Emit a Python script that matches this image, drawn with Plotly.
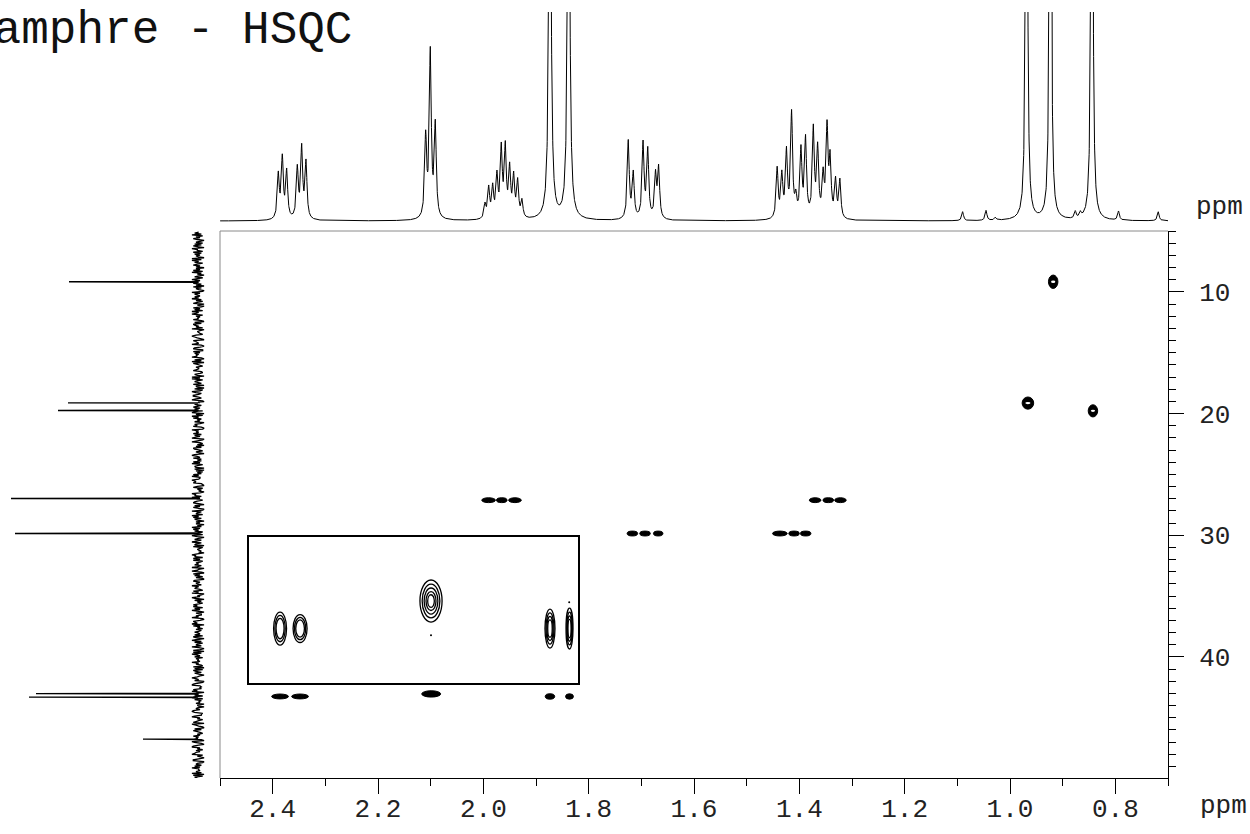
import numpy as np
import plotly.graph_objects as go

FONT = "Courier New, Liberation Mono, monospace"

# ---------------- 1H projection (top): peak list ----------------
h1_ppm = [2.3893, 2.3817, 2.3734, 2.3532, 2.3449, 2.3367,
          2.1095, 2.1007, 2.0912,
          1.9969, 1.9898, 1.9822, 1.9741, 1.9659, 1.9583, 1.9500, 1.9424, 1.9348, 1.9266,
          1.8735, 1.8380,
          1.7248, 1.7153, 1.6967, 1.6878, 1.6730, 1.6671,
          1.4421, 1.4332, 1.4244, 1.4147, 1.4066, 1.3969, 1.3882, 1.3734, 1.3652, 1.3548,
          1.3474, 1.3415, 1.3312, 1.3230,
          1.0899, 1.0455, 1.0278, 0.8761, 0.8664, 0.7939, 0.7185,
          0.9686, 0.9234, 0.8444]
h1_int = [44, 60, 47, 50, 70, 56,
          80, 165, 92,
          14, 30, 30, 41, 68, 69, 48, 40, 36, 17,
          520, 520,
          78, 45, 75, 68, 43, 50,
          50, 42, 65, 104, 18, 67, 78, 88, 68, 40, 88, 56, 37, 38,
          9, 10, 3, 7, 5, 9, 9,
          800, 800, 800]
h1_hwhm = [0.0022] * 41 + [0.0020] * 7 + [0.0016] * 3

# ---------------- 13C projection (left) ----------------
c13_ppm = [9.17, 19.12, 19.75, 26.98, 29.86, 43.02, 43.30, 46.75]
c13_int = [129, 130, 140, 187, 183, 162, 169, 55]
c13_noise_digits = (
    "4729163850" "3617284095" "5182736409" "2947158360" "6381925047"
    "1593748260" "8264019375" "3749261580" "5028371946" "9163548207"
    "2874619035" "4316975208" "6549203781" "1837465920" "7290853164"
    "4682137509" "3915742806" "5071396248" "8426910357" "2583741690"
    "6194825370" "3758201946" "4827369015" "9315062874" "1640795382"
    "5283914760" "7061528493" "3497682105" "8152403967" "2936157840"
    "7384019256" "1948275063" "6052938471" "3819504726" "9267081354"
    "2405967183" "8136472590" "4592083716" "1078365294" "6731849025"
    "3960725148" "5817394062" "2649103875" "9083516247" "4371860592"
    "7156294038" "0829537164" "5394621807" "1862740359" "6470158932"
    "3285906471" "8917243605" "4056389712" "2793514680" "9641072853"
    "1538467209" "7204893516" "3679152048" "8015627394" "4362908175"
)

# ---------------- HSQC cross peaks (main panel) ----------------
xpk_H = [1.990, 1.965, 1.940, 1.370, 1.345, 1.322,
         1.717, 1.693, 1.668, 1.437, 1.410, 1.388,
         2.386, 2.348, 2.099, 1.8735, 1.8364]
xpk_C = [27.12] * 6 + [29.86] * 6 + [43.25, 43.25, 43.04, 43.25, 43.25]
xpk_hw = [0.013, 0.010, 0.012, 0.011, 0.010, 0.011,
          0.010, 0.010, 0.009, 0.014, 0.010, 0.010,
          0.016, 0.016, 0.018, 0.009, 0.0075]
xpk_cw = [0.2] * 12 + [0.2, 0.2, 0.26, 0.22, 0.22]

me_H = [0.918, 0.966, 0.8425]
me_C = [9.17, 19.14, 19.78]
me_hw = [0.009, 0.011, 0.009]
me_cw = [0.55, 0.5, 0.5]

# ---------------- inset (43 ppm row, vertically expanded) ----------------
in_H = [2.386, 2.348, 2.0994, 1.8735, 1.8364]
in_C = [43.30, 43.30, 43.05, 43.30, 43.30]
in_hw = [0.0123, 0.0133, 0.021, 0.0095, 0.0066]
in_cw = [0.150, 0.127, 0.191, 0.177, 0.186]
in_levels = [3, 3, 5, 4, 4]
in_dot_H = [2.0994, 1.837]
in_dot_C = [43.36, 43.06]

# ---------------- build traces ----------------
grid = np.union1d(np.arange(0.7, 2.5, 0.00025), np.array(h1_ppm))
spec1h = np.zeros_like(grid)
for p, a, g in zip(h1_ppm, h1_int, h1_hwhm):
    spec1h += a * g * g / ((grid - p) ** 2 + g * g)

noise_vals = [(int(d) - 4.5) * 1.35 for d in c13_noise_digits]
noise_ppm = list(np.linspace(5.1, 49.95, len(noise_vals)))
pts = list(zip(noise_ppm, noise_vals))
for c, a in zip(c13_ppm, c13_int):
    pts += [(c - 0.05, 0.0), (c, a), (c + 0.05, 0.0)]
pts.sort(key=lambda t: t[0])
c_y = [t[0] for t in pts]
c_x = [t[1] for t in pts]

fig = go.Figure()
fig.add_trace(go.Scatter(x=grid, y=spec1h, mode="lines", xaxis="x", yaxis="y2",
                         line=dict(color="black", width=1), hoverinfo="skip"))
fig.add_trace(go.Scatter(x=c_x, y=c_y, mode="lines", xaxis="x4", yaxis="y",
                         line=dict(color="black", width=1.3, simplify=False), hoverinfo="skip"))
fig.add_trace(go.Scatter(x=in_dot_H, y=in_dot_C, mode="markers", xaxis="x3", yaxis="y3",
                         marker=dict(color="black", size=2), hoverinfo="skip"))
fig.add_trace(go.Scatter(x=me_H, y=me_C, mode="markers", xaxis="x", yaxis="y",
                         marker=dict(color="rgba(0,0,0,0)", size=1), hoverinfo="skip"))

shapes = []
for h, c, hw, cw in zip(xpk_H, xpk_C, xpk_hw, xpk_cw):
    shapes.append(dict(type="circle", xref="x", yref="y", x0=h - hw, x1=h + hw,
                       y0=c - cw, y1=c + cw, fillcolor="black",
                       line=dict(color="black", width=1)))
for h, c, hw, cw in zip(me_H, me_C, me_hw, me_cw):
    shapes.append(dict(type="circle", xref="x", yref="y", x0=h - hw, x1=h + hw,
                       y0=c - cw, y1=c + cw, fillcolor="black",
                       line=dict(color="black", width=1)))
    shapes.append(dict(type="circle", xref="x", yref="y", x0=h - hw * 0.45, x1=h + hw * 0.45,
                       y0=c - cw * 0.18, y1=c + cw * 0.18, fillcolor="white",
                       line=dict(color="white", width=0)))
ring_scales = [1.0, 0.8, 0.62, 0.45, 0.3]
for h, c, hw, cw, n in zip(in_H, in_C, in_hw, in_cw, in_levels):
    for s in ring_scales[:n]:
        shapes.append(dict(type="circle", xref="x3", yref="y3",
                           x0=h - hw * s, x1=h + hw * s, y0=c - cw * s, y1=c + cw * s,
                           line=dict(color="black", width=1.3)))
# light top / left frame of main panel
shapes.append(dict(type="line", xref="x domain", yref="y domain", x0=0, x1=1, y0=1, y1=1,
                   line=dict(color="#8a8a8a", width=1)))
shapes.append(dict(type="line", xref="x domain", yref="y domain", x0=0, x1=0, y0=0, y1=1,
                   line=dict(color="#8a8a8a", width=1)))

W, H = 1250, 834
tickfont = dict(family=FONT, size=26, color="#222")

fig.update_layout(
    width=W, height=H, margin=dict(l=0, r=0, t=0, b=0),
    paper_bgcolor="white", plot_bgcolor="rgba(0,0,0,0)", showlegend=False,
    shapes=shapes,
    xaxis=dict(domain=[220 / W, 1168 / W], range=[2.5, 0.7], anchor="y",
               showline=True, linecolor="black", linewidth=1,
               ticks="outside", ticklen=15, tickwidth=1, tickcolor="black",
               dtick=0.2, tick0=0, tickformat=".1f",
               minor=dict(dtick=0.1, tick0=0, ticks="outside", ticklen=7, tickcolor="black"),
               showgrid=False, zeroline=False, tickfont=tickfont, ticklabelstandoff=-8),
    yaxis=dict(domain=[1 - 778 / H, 1 - 231 / H], range=[49.95, 5.0], anchor="x", side="right",
               showline=True, linecolor="black", linewidth=1,
               ticks="outside", ticklen=15, tickwidth=1, tickcolor="black",
               dtick=10, tick0=0,
               minor=dict(dtick=1, tick0=0, ticks="outside", ticklen=7, tickcolor="black"),
               showgrid=False, zeroline=False, tickfont=tickfont, ticklabelstandoff=10),
    yaxis2=dict(domain=[1 - 224 / H, 1 - 12 / H], range=[-3, 209], anchor="x", visible=False),
    xaxis4=dict(domain=[0, 215 / W], range=[198, -17], anchor="y", visible=False),
    xaxis3=dict(domain=[249 / W, 578 / W], range=[2.445, 1.8203], anchor="y3",
                showline=True, mirror=True, linecolor="black", linewidth=1.5,
                ticks="", showticklabels=False, showgrid=False, zeroline=False),
    yaxis3=dict(domain=[1 - 683 / H, 1 - 537 / H], range=[43.795, 42.468], anchor="x3",
                showline=True, mirror=True, linecolor="black", linewidth=1.5,
                ticks="", showticklabels=False, showgrid=False, zeroline=False),
    annotations=[
        dict(text="Camphre - HSQC", xref="paper", yref="paper", x=354 / W, y=1 - 31 / H,
             xanchor="right", yanchor="middle", showarrow=False,
             font=dict(family=FONT, size=46, color="#111")),
        dict(text="ppm", xref="paper", yref="paper", x=1194 / W, y=1 - 207 / H,
             xanchor="left", yanchor="middle", showarrow=False, font=tickfont),
        dict(text="ppm", xref="paper", yref="paper", x=1198 / W, y=1 - 806 / H,
             xanchor="left", yanchor="middle", showarrow=False, font=tickfont),
    ],
)

fig.write_html("out.html")
